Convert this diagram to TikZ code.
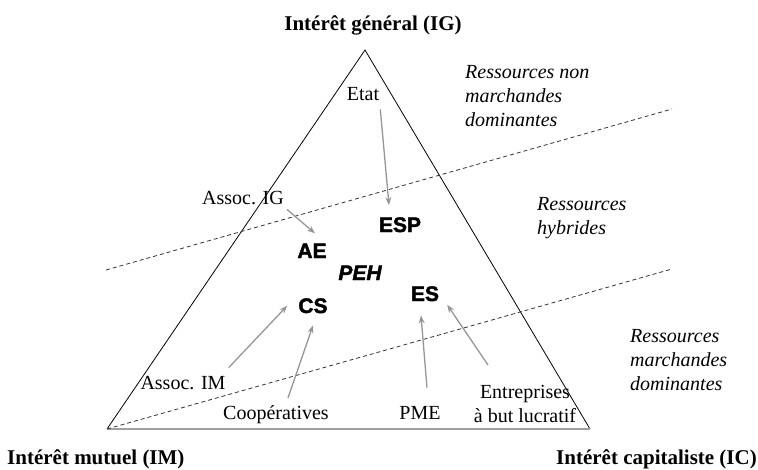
\documentclass[tikz,border=0pt]{standalone}
\usepackage{fontspec}
\setmainfont{Liberation Serif}
\newfontfamily\heavyfont[BoldFeatures={FakeBold=2},BoldItalicFeatures={FakeBold=2}]{Liberation Sans}
\usepackage{xcolor}
\usepackage{tikz}
\usetikzlibrary{arrows.meta,positioning}

\definecolor{arrowgray}{RGB}{150,150,150}
\definecolor{basegray}{RGB}{160,160,160}

\tikzset{
    txt/.style={inner sep=0pt, font=\fontsize{20}{24}\selectfont},
    pole/.style={inner sep=0pt, font=\fontsize{21}{25}\selectfont\bfseries},
    sector/.style={inner sep=0pt, font=\fontsize{21}{25}\selectfont\heavyfont\bfseries},
    resource/.style={inner sep=0pt, align=left, anchor=north west, font=\fontsize{20}{24}\selectfont\itshape},
    link/.style={arrowgray, line width=1.3pt, -{Stealth[length=8pt,width=6pt]}},
    zone/.style={black!80, line width=0.8pt, dash pattern=on 4pt off 3pt}
}

\begin{document}
\begin{tikzpicture}[x=1pt,y=-1pt]
        \useasboundingbox (0,0) rectangle (758,469);

        % Triangle of the three poles
        \coordinate (top) at (365,50);
        \coordinate (left) at (107,429);
        \coordinate (right) at (590,429);
        \draw[line width=0.8pt] (left) -- (top) -- (right);
        \draw[basegray, line width=2pt] (left) -- (right);

        % Resource zones
        \coordinate (z1a) at (106,270);
        \coordinate (z1b) at (672,109);
        \coordinate (z2b) at (672,269);
        \draw[zone] (z1a) -- (z1b);
        \draw[zone] (left) -- (z2b);

        % Poles
        \node[pole, anchor=base] (ig) at (373,30) {Intérêt général (IG)};
        \node[pole, anchor=base west] (im) at (7,464) {Intérêt mutuel (IM)};
        \node[pole, anchor=base east] (ic) at (757,464) {Intérêt capitaliste (IC)};

        % Resource labels
        \node[resource] (nonmarch) at (465,65) {Ressources non\\marchandes\\dominantes};
        \node[resource] (hybr) at (537,197) {Ressources\\hybrides};
        \node[resource] (march) at (630,329) {Ressources\\marchandes\\dominantes};

        % Organisations
        \node[txt, anchor=base] (etat) at (363,100) {Etat};
        \node[txt, anchor=base] (aig) at (243,204) {Assoc. IG};
        \node[txt, anchor=base] (aim) at (183,389) {Assoc. IM};
        \node[txt, anchor=base] (coop) at (276,419) {Coopératives};
        \node[txt, anchor=base] (pme) at (420,419) {PME};
        \node[txt, anchor=north, align=center] (ent) at (525,385) {Entreprises\\à but lucratif};

        % Hybrid forms
        \node[sector, anchor=base] (esp) at (400,232) {ESP};
        \node[sector, anchor=base] (ae) at (312,258) {AE};
        \node[sector, anchor=base, font=\fontsize{21}{25}\selectfont\heavyfont\bfseries\itshape] (peh) at (360,280) {PEH};
        \node[sector, anchor=base] (cs) at (313,313) {CS};
        \node[sector, anchor=base] (es) at (425,301) {ES};

        % Links
        \draw[link] ([shift={(1,9)}]etat.south east) -- ([shift={(-11,-12)}]esp.north);
        \draw[link] ([shift={(3,5)}]aig.south east) -- ([shift={(3,-10)}]ae.north);
        \draw[link] ([shift={(3,-8)}]aim.north east) -- ([shift={(-11,0)}]cs.west);
        \draw[link] ([shift={(12,-7)}]coop.north) -- ([shift={(0,12)}]cs.south);
        \draw[link] ([shift={(7,-18)}]pme.north) -- ([shift={(-4,14)}]es.south);
        \draw[link] ([shift={(-37,-20)}]ent.north) -- ([shift={(8,11)}]es.east);
    \end{tikzpicture}
\end{document}
